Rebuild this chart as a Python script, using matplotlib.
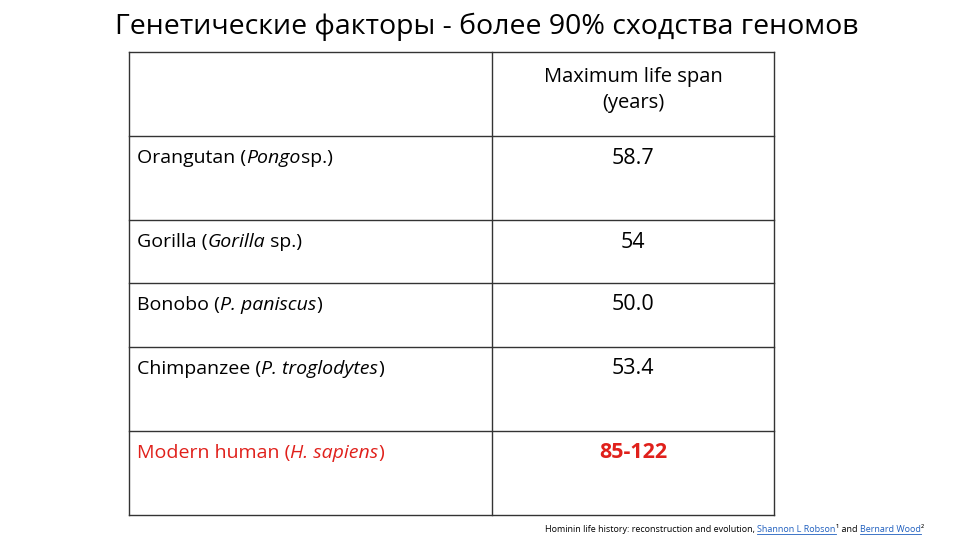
import matplotlib.pyplot as plt

title = "Генетические факторы - более 90% сходства геномов"
header = "Maximum life span\n(years)"
# each label as list of (text, italic)
labels = [
    [("Orangutan (", False), ("Pongo", True), ("sp.)", False)],
    [("Gorilla (", False), ("Gorilla", True), (" sp.)", False)],
    [("Bonobo (", False), ("P. paniscus", True), (")", False)],
    [("Chimpanzee (", False), ("P. troglodytes", True), (")", False)],
    [("Modern human (", False), ("H. sapiens", True), (")", False)],
]
values = ["58.7", "54", "50.0", "53.4", "85-122"]
row_colors = ["black", "black", "black", "black", "#e0201b"]
source = "Hominin life history: reconstruction and evolution, "

row_lines = [52, 136, 220, 283, 347, 431, 515]
x_left, x_mid, x_right = 129, 492, 774
FONT = "Open Sans"

fig = plt.figure(figsize=(9.6, 5.4), dpi=100)
ax = fig.add_axes([0, 0, 1, 1])
ax.set_xlim(0, 960)
ax.set_ylim(540, 0)
ax.axis("off")

ax.text(487, 27, title, ha="center", va="center", fontsize=20.5, family=FONT)

for y in row_lines:
    ax.plot([x_left, x_right], [y, y], color="#333333", lw=1)
for x in (x_left, x_mid, x_right):
    ax.plot([x, x], [row_lines[0], row_lines[-1]], color="#333333", lw=1)

ax.text((x_mid + x_right) / 2, 90, header, ha="center", va="center",
        fontsize=14.5, family=FONT, linespacing=1.45)

fig.canvas.draw()
r = fig.canvas.get_renderer()
for i, parts in enumerate(labels):
    y = row_lines[i + 1] + 22
    x = 137
    for txt, it in parts:
        t = ax.text(x, y, txt, ha="left", va="center", fontsize=14, family=FONT,
                    style="italic" if it else "normal", color=row_colors[i])
        bb = t.get_window_extent(renderer=r)
        x += bb.width
    ax.text((x_mid + x_right) / 2, y, values[i], ha="center", va="center",
            fontsize=15.5, family=FONT, color=row_colors[i],
            weight="bold" if i == 4 else "normal")

t = ax.text(545, 530, source, ha="left", va="center", fontsize=6.5, family=FONT)
x = 545 + t.get_window_extent(renderer=r).width
for txt, link in [("Shannon L Robson", True), ("¹ and ", False), ("Bernard Wood", True), ("²", False)]:
    t = ax.text(x, 530, txt, ha="left", va="center", fontsize=6.5, family=FONT,
                color="#1f5fbf" if link else "black")
    bb = t.get_window_extent(renderer=r)
    if link:
        ax.plot([x, x + bb.width], [534, 534], color="#1f5fbf", lw=0.6)
    x += bb.width

fig.savefig("out.png", dpi=100)
